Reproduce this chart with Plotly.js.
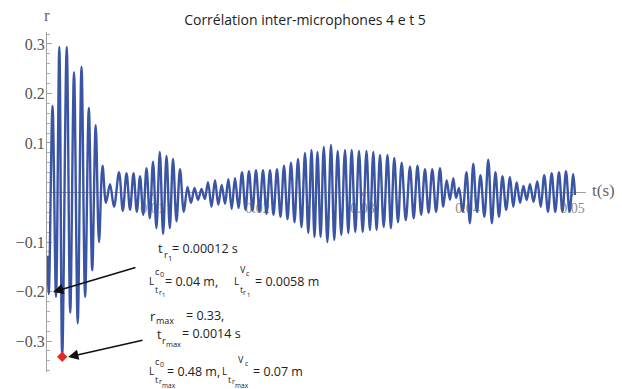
<!DOCTYPE html>
<html>
<head>
<meta charset="utf-8">
<script src="https://cdn.plot.ly/plotly-3.0.1.min.js"></script>
<style>html,body{margin:0;padding:0;background:#fff}#chart{width:622px;height:389px}</style>
</head>
<body>
<div id="chart"></div>
<script>
// time (s) of successive extremes of the correlation curve
const tVals = [0, 0.00012, 0.000476, 0.00081, 0.001124, 0.0014, 0.001829, 0.002162, 0.002524, 0.002876, 0.003238, 0.003581, 0.003933, 0.004257, 0.00459, 0.004905, 0.005238, 0.005571, 0.005952, 0.006333, 0.00681, 0.007171, 0.007524, 0.007857, 0.00819, 0.008505, 0.00881, 0.009114, 0.009429, 0.009743, 0.010048, 0.010371, 0.010695, 0.01101, 0.011333, 0.011648, 0.011952, 0.012286, 0.012619, 0.012981, 0.013333, 0.013667, 0.014, 0.014333, 0.014667, 0.014981, 0.015286, 0.015619, 0.015952, 0.016267, 0.01659, 0.016905, 0.017219, 0.017543, 0.017857, 0.01819, 0.018524, 0.018857, 0.01919, 0.019524, 0.019857, 0.02019, 0.020524, 0.020857, 0.02119, 0.021524, 0.021857, 0.02219, 0.022524, 0.022857, 0.02319, 0.023524, 0.023857, 0.02419, 0.024524, 0.024838, 0.025143, 0.025429, 0.025714, 0.02601, 0.026314, 0.026657, 0.027, 0.027314, 0.027638, 0.027981, 0.028333, 0.028648, 0.028971, 0.029314, 0.029667, 0.030019, 0.030381, 0.030705, 0.031029, 0.031343, 0.031667, 0.032019, 0.032381, 0.032705, 0.033029, 0.033381, 0.033733, 0.034124, 0.034524, 0.034876, 0.035238, 0.03559, 0.035952, 0.036295, 0.036648, 0.03701, 0.037381, 0.037695, 0.038019, 0.038333, 0.038648, 0.038914, 0.03919, 0.039543, 0.039905, 0.040229, 0.040552, 0.040895, 0.041238, 0.04161, 0.041981, 0.042324, 0.042667, 0.043, 0.043333, 0.043686, 0.044048, 0.044362, 0.044686, 0.04501, 0.045333, 0.045638, 0.045952, 0.046295, 0.046648, 0.046981, 0.047314, 0.047667, 0.048019, 0.048362, 0.048714, 0.049048, 0.049381, 0.049724, 0.050076, 0.050238];
// correlation r at those times
const rVals = [-0.128, -0.205, 0.175, -0.211, 0.294, -0.332, 0.294, -0.243, 0.243, -0.264, 0.254, -0.211, 0.171, -0.157, 0.136, -0.100, 0.054, -0.021, 0.017, -0.029, 0.041, -0.037, 0.039, -0.035, 0.039, -0.039, 0.033, -0.045, 0.049, -0.052, 0.062, -0.072, 0.082, -0.084, 0.074, -0.072, 0.068, -0.058, 0.047, -0.039, 0.011, -0.021, 0.009, -0.015, 0.007, -0.013, 0.021, -0.029, 0.025, -0.025, 0.015, -0.023, 0.027, -0.033, 0.029, -0.031, 0.041, -0.035, 0.043, -0.037, 0.045, -0.039, 0.045, -0.043, 0.045, -0.045, 0.047, -0.049, 0.054, -0.054, 0.060, -0.060, 0.068, -0.070, 0.080, -0.082, 0.086, -0.090, 0.082, -0.090, 0.092, -0.100, 0.096, -0.096, 0.084, -0.086, 0.086, -0.082, 0.086, -0.080, 0.084, -0.080, 0.084, -0.076, 0.082, -0.076, 0.076, -0.070, 0.076, -0.072, 0.070, -0.060, 0.060, -0.056, 0.052, -0.052, 0.054, -0.045, 0.047, -0.041, 0.047, -0.039, 0.049, -0.029, 0.025, -0.015, 0.029, -0.011, 0.009, -0.039, 0.041, -0.062, 0.058, -0.039, 0.035, -0.049, 0.066, -0.062, 0.041, -0.049, 0.033, -0.035, 0.031, -0.029, 0.021, -0.021, 0.013, -0.015, 0.017, -0.019, 0.023, -0.029, 0.035, -0.039, 0.039, -0.039, 0.041, -0.039, 0.043, -0.039, 0.037, -0.005];

const xTickVals = [0.01, 0.02, 0.03, 0.04, 0.05];
const xTickText = ['0.01', '0.02', '0.03', '0.04', '0.05'];
const yTickVals = [-0.3, -0.2, -0.1, 0.1, 0.2, 0.3];
const yTickText = ['\u22120.3', '\u22120.2', '\u22120.1', '0.1', '0.2', '0.3'];

const titleText = 'Corrélation inter-microphones 4 e t 5';

// ---- layout helpers ----
const W = 622, H = 389;
const M = {l: 47, r: 36, t: 32, b: 17};
const PW = W - M.l - M.r, PH = H - M.t - M.b;
const xRange = [-0.00005, 0.05129];
const yRange = [-0.3626, 0.3242];
const px = x => (x - M.l) / PW;
const py = y => (H - M.b - y) / PH;

// index of the extreme minimum
let iMin = 0;
for (let i = 1; i < rVals.length; i++) if (rVals[i] < rVals[iMin]) iMin = i;

const SANS = '"Open Sans", "Noto Sans", sans-serif';
const SERIF = '"Liberation Serif", "Times New Roman", "DejaVu Serif", serif';

// text pieces [text, left px, center px, font size]
const pieces = [
  ['t', 157, 248, 13], ['r', 162.5, 254, 9.5], ['1', 166.5, 258, 7.5], ['= 0.00012 s', 171, 248, 12.5],
  ['L', 148, 281, 10], ['c', 154, 271, 9], ['0', 158.5, 274, 7], ['t', 154, 289, 9], ['r', 157.5, 292, 7], ['1', 161, 295, 6], ['= 0.04 m,', 164, 281, 12.5],
  ['L', 232.5, 281, 10], ['V', 238.5, 269, 9], ['c', 245, 273, 7], ['t', 238.5, 289, 9], ['r', 242, 292, 7], ['1', 245.5, 295, 6], ['= 0.0058 m', 254, 281, 12.5],
  ['r', 149, 315.5, 13], ['max', 155, 320, 9], ['= 0.33,', 185, 315.5, 12.5],
  ['t', 156, 334.5, 12.5], ['r', 160.5, 340.5, 9.5], ['max', 164.5, 343.5, 7.5], ['= 0.0014 s', 181, 333.5, 12.5],
  ['L', 148, 371, 10], ['c', 154, 361, 9], ['0', 158.5, 364, 7], ['t', 154, 379, 9], ['r', 157.5, 382, 7], ['max', 161, 385, 6.5], ['= 0.48 m,', 166, 371, 12.5],
  ['L', 221, 371, 10], ['V', 237, 359, 9], ['c', 243.5, 363, 7], ['t', 227, 379, 9], ['r', 230.5, 382, 7], ['max', 234, 385, 6.5], ['= 0.07 m', 252, 371, 12.5]
];

const annotations = pieces.map(p => ({
  text: p[0], x: px(p[1]), y: py(p[2]), xref: 'paper', yref: 'paper',
  xanchor: 'left', yanchor: 'middle', showarrow: false, borderpad: 0,
  font: {family: SANS, size: p[3], color: '#222'}
}));

// axis labels
annotations.push({text: 'r', x: px(47), y: py(16), xref: 'paper', yref: 'paper',
  xanchor: 'center', yanchor: 'middle', showarrow: false,
  font: {family: SERIF, size: 17, color: '#666'}});
annotations.push({text: 't(s)', x: px(603), y: py(190), xref: 'paper', yref: 'paper',
  xanchor: 'center', yanchor: 'middle', showarrow: false,
  font: {family: SERIF, size: 17, color: '#666'}});

// arrows [tip px, tip py, tail px, tail py]
const arrows = [[53, 292, 137, 267], [68, 357, 144, 340]];
arrows.forEach(a => annotations.push({
  text: '', x: px(a[0]), y: py(a[1]), xref: 'paper', yref: 'paper',
  ax: a[2] - a[0], ay: a[3] - a[1], showarrow: true,
  arrowhead: 2, arrowsize: 1.3, arrowwidth: 1.6, arrowcolor: '#111', standoff: 0
}));

const traces = [
  {x: tVals, y: rVals, type: 'scatter', mode: 'lines',
   line: {color: '#3b55a5', width: 2.4, shape: 'spline', smoothing: 1},
   hoverinfo: 'skip'},
  {x: [tVals[iMin]], y: [rVals[iMin]], type: 'scatter', mode: 'markers',
   marker: {symbol: 'diamond', size: 8, color: '#e8281e'}, hoverinfo: 'skip', cliponaxis: false}
];

const layout = {
  width: W, height: H,
  margin: {l: M.l, r: M.r, t: M.t, b: M.b, pad: 0},
  paper_bgcolor: '#fff', plot_bgcolor: '#fff',
  showlegend: false,
  title: {text: titleText, font: {family: SANS, size: 14, color: '#222'},
    x: 305 / W, xref: 'container', xanchor: 'center',
    y: 1 - 20 / H, yref: 'container', yanchor: 'middle'},
  xaxis: {range: xRange, anchor: 'free',
    position: (0 - yRange[0]) / (yRange[1] - yRange[0]),
    showline: false, zeroline: false, showgrid: false,
    tickmode: 'array', tickvals: xTickVals, ticktext: xTickText,
    ticks: 'outside', ticklen: 3, tickcolor: '#a0a0a0',
    tickfont: {family: SERIF, size: 14, color: '#8c8c86'},
    layer: 'below traces', automargin: false, fixedrange: true},
  yaxis: {range: yRange, showline: true, linecolor: '#a0a0a0', linewidth: 1,
    zeroline: true, zerolinecolor: '#a0a0a0', zerolinewidth: 1, showgrid: false,
    tickmode: 'array', tickvals: yTickVals, ticktext: yTickText,
    ticks: 'inside', ticklen: 5, tickcolor: '#a0a0a0', ticklabelstandoff: -2,
    minor: {tickmode: 'linear', tick0: 0, dtick: 0.02, ticks: 'inside', ticklen: 2.5, tickcolor: '#b0b0b0', showgrid: false},
    tickfont: {family: SERIF, size: 16, color: '#555'},
    layer: 'below traces', automargin: false, fixedrange: true},
  annotations: annotations
};

Plotly.newPlot('chart', traces, layout, {displayModeBar: false, staticPlot: true});
</script>
</body>
</html>
